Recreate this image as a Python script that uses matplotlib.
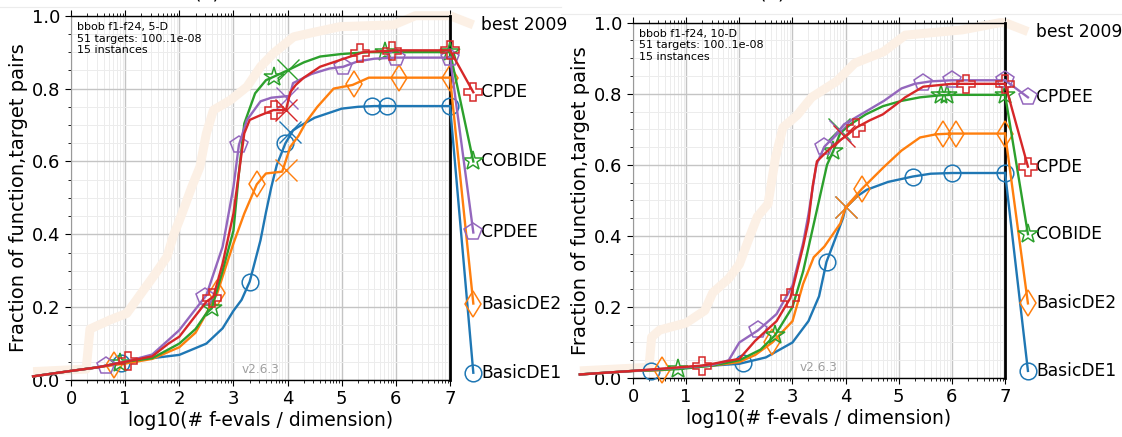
import numpy as np
import matplotlib
matplotlib.use("Agg")
import matplotlib.pyplot as plt
from matplotlib.ticker import FixedLocator, MultipleLocator
from matplotlib.lines import Line2D

# ---------------- data ----------------
ALGS = ['BasicDE1', 'BasicDE2', 'COBIDE', 'CPDEE', 'CPDE']

# ---- 5-D panel ----
D5_BASICDE1_X = [-0.7, 0, 0.5, 1, 1.5, 2, 2.5, 2.8, 3.0, 3.15, 3.3, 3.5, 3.6, 3.7, 3.8, 3.96, 4.1, 4.2, 4.5, 4.8, 5.0, 5.3, 5.6, 6, 7]
D5_BASICDE1_Y = [0.01, 0.025, 0.035, 0.05, 0.06, 0.069, 0.1, 0.142, 0.19, 0.22, 0.27, 0.384, 0.46, 0.53, 0.59, 0.65, 0.685, 0.695, 0.72, 0.735, 0.745, 0.75, 0.752, 0.752, 0.752]
D5_BASICDE1_MK = [0.93, 3.3, 3.96, 5.56, 5.83, 7.0]

D5_BASICDE2_X = [-0.7, 0, 0.5, 1, 1.5, 2, 2.3, 2.5, 2.7, 2.8, 3.0, 3.2, 3.43, 3.6, 3.9, 4.05, 4.2, 4.35, 4.55, 4.85, 5.2, 5.5, 6, 7]
D5_BASICDE2_Y = [0.01, 0.025, 0.035, 0.045, 0.058, 0.09, 0.13, 0.183, 0.238, 0.284, 0.375, 0.457, 0.537, 0.567, 0.572, 0.64, 0.67, 0.71, 0.75, 0.8, 0.81, 0.83, 0.83, 0.83]
D5_BASICDE2_MK = [0.8, 2.7, 3.43, 5.23, 6.06, 7.0]

D5_COBIDE_X = [-0.7, 0, 0.5, 1, 1.5, 2, 2.3, 2.5, 2.6, 2.8, 3.0, 3.1, 3.2, 3.4, 3.6, 3.75, 4.0, 4.3, 4.6, 5.0, 5.5, 6, 7]
D5_COBIDE_Y = [0.01, 0.025, 0.035, 0.05, 0.06, 0.1, 0.14, 0.183, 0.197, 0.3, 0.41, 0.567, 0.704, 0.787, 0.823, 0.833, 0.85, 0.872, 0.888, 0.895, 0.9, 0.9, 0.9]
D5_COBIDE_MK = [0.9, 2.6, 3.74, 5.8, 7.0]

D5_CPDEE_X = [-0.7, 0, 0.5, 1, 1.5, 1.8, 2.0, 2.5, 2.8, 3.0, 3.1, 3.25, 3.5, 3.7, 4.04, 4.1, 4.44, 4.77, 5.03, 5.3, 5.6, 6, 7]
D5_CPDEE_Y = [0.01, 0.025, 0.035, 0.05, 0.07, 0.11, 0.137, 0.233, 0.366, 0.53, 0.645, 0.714, 0.765, 0.775, 0.78, 0.815, 0.84, 0.855, 0.86, 0.875, 0.882, 0.885, 0.885]
D5_CPDEE_MK = [0.65, 2.48, 3.1, 5.03, 6.0, 7.0]

D5_CPDE_X = [-0.7, 0, 0.5, 1, 1.5, 1.8, 2.0, 2.5, 2.63, 2.8, 3.0, 3.1, 3.2, 3.3, 3.5, 3.74, 3.97, 4.05, 4.15, 4.3, 4.6, 5.0, 5.4, 6, 7]
D5_CPDE_Y = [0.01, 0.025, 0.035, 0.05, 0.065, 0.1, 0.119, 0.215, 0.229, 0.32, 0.457, 0.567, 0.677, 0.714, 0.727, 0.741, 0.741, 0.79, 0.81, 0.83, 0.86, 0.88, 0.9, 0.905, 0.905]
D5_CPDE_MK = [1.05, 2.6, 3.74, 5.33, 5.93, 7.0]

D5_XMARK_X = [4.05, 3.97, 4.0, 3.98, 3.97]
D5_XMARK_Y = [0.68, 0.576, 0.852, 0.775, 0.74]

D5_BEST_X = [-0.7, 0.28, 0.35, 0.72, 1.03, 1.21, 1.34, 1.52, 1.77, 1.9, 2.05, 2.23, 2.38, 2.5, 2.63, 2.94, 3.25, 3.5, 3.74, 4.11, 4.5, 4.97, 5.96, 6.36, 7.0]
D5_BEST_Y = [0.023, 0.03, 0.14, 0.165, 0.183, 0.22, 0.247, 0.284, 0.338, 0.4, 0.457, 0.53, 0.585, 0.677, 0.741, 0.768, 0.805, 0.86, 0.897, 0.942, 0.955, 0.97, 0.975, 1.0, 1.0]

D5_LABEL_Y = [0.02, 0.21, 0.6, 0.405, 0.79]
D5_BEST_LABEL_Y = 0.975

# ---- 10-D panel ----
D10_BASICDE1_X = [-1, 0, 0.34, 1, 1.5, 2, 2.5, 3.0, 3.3, 3.5, 3.64, 3.8, 3.95, 4.0, 4.2, 4.4, 4.8, 5.26, 5.6, 6, 7]
D10_BASICDE1_Y = [0.01, 0.02, 0.021, 0.03, 0.035, 0.04, 0.058, 0.1, 0.16, 0.23, 0.327, 0.39, 0.45, 0.48, 0.51, 0.53, 0.552, 0.567, 0.575, 0.577, 0.577]
D10_BASICDE1_MK = [0.34, 2.07, 3.64, 5.26, 6.0, 7.0]

D10_BASICDE2_X = [-1, 0, 0.54, 1, 1.5, 2, 2.3, 2.62, 3.0, 3.2, 3.4, 3.6, 3.9, 4.0, 4.31, 4.72, 5.05, 5.4, 5.7, 6, 7]
D10_BASICDE2_Y = [0.01, 0.02, 0.022, 0.03, 0.035, 0.045, 0.065, 0.1, 0.16, 0.265, 0.34, 0.37, 0.435, 0.48, 0.533, 0.594, 0.64, 0.677, 0.686, 0.688, 0.688]
D10_BASICDE2_MK = [0.54, 2.62, 4.31, 5.83, 6.07, 7.0]

D10_COBIDE_X = [-1, 0, 0.85, 1.5, 2, 2.4, 2.67, 3.0, 3.2, 3.35, 3.5, 3.65, 3.77, 3.9, 4.1, 4.38, 4.7, 5.05, 5.4, 5.8, 6, 7]
D10_COBIDE_Y = [0.01, 0.02, 0.025, 0.035, 0.05, 0.08, 0.12, 0.2, 0.3, 0.4, 0.5, 0.6, 0.64, 0.69, 0.715, 0.742, 0.765, 0.78, 0.79, 0.796, 0.797, 0.797]
D10_COBIDE_MK = [0.85, 2.67, 3.77, 5.8, 5.9, 7.0]

D10_CPDEE_X = [-1, 0, 1, 1.5, 1.8, 2.0, 2.35, 2.7, 3.0, 3.2, 3.3, 3.45, 3.6, 3.77, 3.97, 4.38, 4.72, 5.05, 5.3, 5.6, 6, 7]
D10_CPDEE_Y = [0.01, 0.02, 0.03, 0.037, 0.05, 0.1, 0.134, 0.18, 0.26, 0.38, 0.46, 0.6, 0.651, 0.677, 0.714, 0.75, 0.78, 0.815, 0.828, 0.835, 0.838, 0.838]
D10_CPDEE_MK = [2.35, 3.6, 5.46, 6.0, 7.0]

D10_CPDE_X = [-1, 0, 1.29, 1.5, 2.0, 2.3, 2.7, 2.96, 3.2, 3.3, 3.38, 3.46, 3.7, 3.9, 4.0, 4.2, 4.45, 4.7, 4.95, 5.12, 5.46, 6, 7]
D10_CPDE_Y = [0.01, 0.02, 0.035, 0.04, 0.054, 0.105, 0.16, 0.225, 0.37, 0.44, 0.54, 0.61, 0.645, 0.67, 0.68, 0.705, 0.725, 0.742, 0.77, 0.79, 0.82, 0.828, 0.828]
D10_CPDE_MK = [1.29, 2.96, 4.2, 6.27, 7.0]

D10_XMARK_X = [4.0, 4.0, 3.88, 3.9, 3.97]
D10_XMARK_Y = [0.48, 0.48, 0.70, 0.695, 0.68]

D10_BEST_X = [-1, 0.3, 0.35, 0.5, 1.0, 1.35, 1.5, 1.8, 2.0, 2.2, 2.34, 2.54, 2.68, 2.82, 3.09, 3.36, 3.83, 4.17, 4.71, 5.12, 6.2, 6.9, 7.0]
D10_BEST_Y = [0.02, 0.03, 0.115, 0.135, 0.155, 0.19, 0.24, 0.28, 0.32, 0.4, 0.454, 0.49, 0.62, 0.705, 0.74, 0.79, 0.835, 0.886, 0.918, 0.965, 0.98, 1.0, 1.0]

D10_LABEL_Y = [0.02, 0.21, 0.405, 0.79, 0.595]
D10_BEST_LABEL_Y = 0.975

INFO_5D = "bbob f1-f24, 5-D\n51 targets: 100..1e-08\n15 instances"
INFO_10D = "bbob f1-f24, 10-D\n51 targets: 100..1e-08\n15 instances"
VERSION = "v2.6.3"
XLABEL = "log10(# f-evals / dimension)"
YLABEL = "Fraction of function,target pairs"
XTICKS = [0, 1, 2, 3, 4, 5, 6, 7]
YTICKS = [0.0, 0.2, 0.4, 0.6, 0.8, 1.0]

# ---------------- styles ----------------
COLORS = ['#1f77b4', '#ff7f0e', '#2ca02c', '#9467bd', '#d62728']
MARKERS = ['o', 'd', '*', 'p', 'P']
MSIZES = [12, 13, 15, 13, 13]
BEST_COLOR = '#fcf0e5'
LABEL_X = 7.58
END_X = 7.43
LABEL_FS = 12.3

fig = plt.figure(figsize=(11.22, 4.37), dpi=100)
ax1 = fig.add_axes([0.0633, 0.1304, 0.3378, 0.8336])
ax2 = fig.add_axes([0.5642, 0.135, 0.3316, 0.813])

minor_x = [d + np.log10(k) for d in range(0, 7) for k in range(2, 10)]


def panel(ax, curves, marks, xmx, xmy, bestx, besty, labely, best_label_y, info):
    ax.set_xlim(0, 7)
    ax.set_ylim(0, 1)
    ax.xaxis.set_major_locator(FixedLocator(XTICKS))
    ax.xaxis.set_minor_locator(FixedLocator(minor_x))
    ax.yaxis.set_major_locator(FixedLocator(YTICKS))
    ax.yaxis.set_minor_locator(MultipleLocator(0.05))
    ax.set_yticklabels(['%.1f' % v for v in YTICKS])
    ax.grid(True, which='major', color='#c4c4c4', lw=1.0, zorder=0)
    ax.grid(True, which='minor', color='#ececec', lw=0.7, zorder=0)
    ax.set_axisbelow(True)
    ax.tick_params(which='both', top=True, right=False, labelsize=13)
    ax.tick_params(which='major', length=4)
    ax.tick_params(which='minor', length=2.5)
    for s in ['top', 'bottom']:
        ax.spines[s].set_color('black')
        ax.spines[s].set_linewidth(1.0)
    ax.spines['left'].set_color('#999999')
    ax.spines['left'].set_linewidth(0.8)
    ax.spines['right'].set_color('black')
    ax.spines['right'].set_linewidth(2.0)
    ax.set_xlabel(XLABEL, fontsize=13.5, labelpad=2)
    ax.set_ylabel(YLABEL, fontsize=14, labelpad=3)

    # reference line
    ax.plot(bestx, besty, color=BEST_COLOR, lw=6.5, zorder=1.5, clip_on=False,
            solid_capstyle='butt', solid_joinstyle='round')
    ax.plot([bestx[-1], END_X], [besty[-1], best_label_y], color=BEST_COLOR, lw=6.5,
            zorder=1.5, clip_on=False, solid_capstyle='butt')
    ax.text(LABEL_X, best_label_y, 'best 2009', fontsize=LABEL_FS, va='center',
            ha='left', clip_on=False)

    for i, (cx, cy) in enumerate(curves):
        c = COLORS[i]
        ax.plot(cx, cy, color=c, lw=1.7, zorder=3 + i * 0.1, clip_on=False)
        mx = np.array(marks[i])
        my = np.interp(mx, cx, cy)
        ax.plot(mx, my, ls='none', marker=MARKERS[i], ms=MSIZES[i], mfc='none',
                mec=c, mew=1.1, zorder=3 + i * 0.1, clip_on=False)
        ax.plot([xmx[i]], [xmy[i]], ls='none', marker='x', ms=16, mec=c, mew=1.0,
                zorder=3 + i * 0.1, clip_on=False)
        ax.plot([cx[-1], END_X], [cy[-1], labely[i]], color=c, lw=1.7,
                marker=MARKERS[i], markevery=[1], ms=MSIZES[i], mfc='none',
                mec=c, mew=1.1, clip_on=False, zorder=3 + i * 0.1)
        ax.text(LABEL_X, labely[i], ALGS[i], fontsize=LABEL_FS, va='center',
                ha='left', clip_on=False)

    ax.text(0.016, 0.983, info, transform=ax.transAxes, fontsize=8, va='top',
            ha='left', zorder=6)
    ax.text(3.5, 0.01, VERSION, fontsize=8.7, color='#a0a0a0', ha='center',
            va='bottom', zorder=6)


curves5 = [(D5_BASICDE1_X, D5_BASICDE1_Y), (D5_BASICDE2_X, D5_BASICDE2_Y),
           (D5_COBIDE_X, D5_COBIDE_Y), (D5_CPDEE_X, D5_CPDEE_Y), (D5_CPDE_X, D5_CPDE_Y)]
marks5 = [D5_BASICDE1_MK, D5_BASICDE2_MK, D5_COBIDE_MK, D5_CPDEE_MK, D5_CPDE_MK]
curves10 = [(D10_BASICDE1_X, D10_BASICDE1_Y), (D10_BASICDE2_X, D10_BASICDE2_Y),
            (D10_COBIDE_X, D10_COBIDE_Y), (D10_CPDEE_X, D10_CPDEE_Y), (D10_CPDE_X, D10_CPDE_Y)]
marks10 = [D10_BASICDE1_MK, D10_BASICDE2_MK, D10_COBIDE_MK, D10_CPDEE_MK, D10_CPDE_MK]

panel(ax1, curves5, marks5, D5_XMARK_X, D5_XMARK_Y, D5_BEST_X, D5_BEST_Y,
      D5_LABEL_Y, D5_BEST_LABEL_Y, INFO_5D)
panel(ax2, curves10, marks10, D10_XMARK_X, D10_XMARK_Y, D10_BEST_X, D10_BEST_Y,
      D10_LABEL_Y, D10_BEST_LABEL_Y, INFO_10D)

# sub-captions, mostly above the top edge as in the reference crop
fig.text(0.184, 1.004, '(a)', fontsize=14, ha='center', va='baseline')
fig.text(0.688, 1.004, '(b)', fontsize=14, ha='center', va='baseline')
fig.add_artist(Line2D([0.0, 0.5], [0.984, 0.984], transform=fig.transFigure,
                      color='#ececec', lw=0.8))
fig.add_artist(Line2D([0.5, 1.0], [0.968, 0.968], transform=fig.transFigure,
                      color='#ececec', lw=0.8))

fig.savefig('out.png', dpi=100)
